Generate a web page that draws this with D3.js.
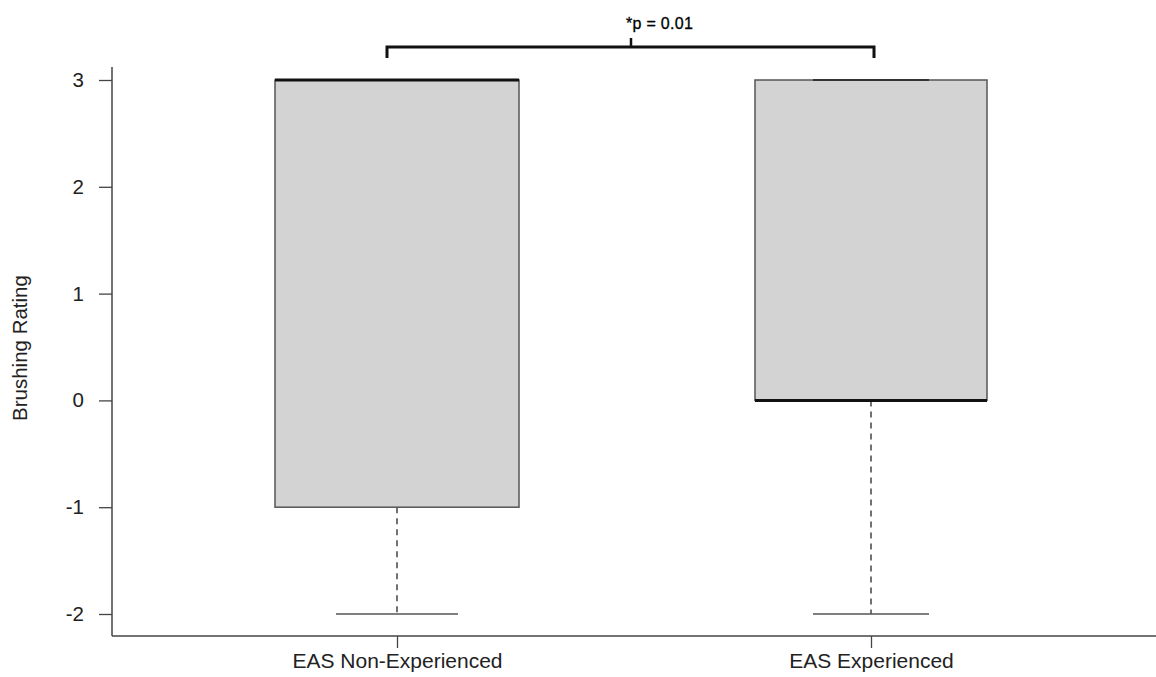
<!DOCTYPE html>
<html>
  <head>
    <meta charset="utf-8">
    <script src="https://d3js.org/d3.v7.min.js"></script>
    <style>
      body { margin: 0; background: #fff; }
      text { font-family: "Liberation Sans", Arial, sans-serif; }
    </style>
  </head>
  <body>
<script type="text/javascript">
// box plot data
var groups = ['EAS Non-Experienced', 'EAS Experienced'];
var mins = [-2, -2];
var q1s = [-1, 0];
var medians = [3, 0];
var q3s = [3, 3];
var maxs = [3, 3];
var yTicks = [-2, -1, 0, 1, 2, 3];
var sigLabel = '*p = 0.01';

var width = 1156;
var height = 677;
var svg = d3.select('body').append('svg')
      .attr('width', width)
      .attr('height', height);

var y = d3.scaleLinear()
      .domain([-2, 3])
      .range([614, 80]);

var x = d3.scalePoint()
      .domain(groups)
      .range([397, 871]);

var boxHalf = [122, 116];

// axes (L shaped, like bty="l")
var yAxis = svg.append('g')
      .attr('transform', 'translate(112,0)')
      .call(d3.axisLeft(y).tickValues(yTicks).tickSize(13).tickPadding(15)
        .tickFormat(function(d) { return String(d); }));
yAxis.select('.domain').remove();
yAxis.selectAll('line').attr('stroke', '#444').attr('stroke-width', 1.3);
yAxis.selectAll('text').attr('font-size', 20.5).attr('fill', '#222')
      .style('font-family', '"Liberation Sans", Arial, sans-serif');

svg.append('line')
      .attr('x1', 112).attr('x2', 112)
      .attr('y1', 67).attr('y2', 636)
      .attr('stroke', '#444').attr('stroke-width', 1.5);

var xAxis = svg.append('g')
      .attr('transform', 'translate(0,636)')
      .call(d3.axisBottom(x).tickSize(12).tickPadding(5));
xAxis.select('.domain').remove();
xAxis.selectAll('line').attr('stroke', '#444').attr('stroke-width', 1.3);
xAxis.selectAll('text').attr('font-size', 21).attr('fill', '#222')
      .style('font-family', '"Liberation Sans", Arial, sans-serif');

svg.append('line')
      .attr('x1', 112).attr('x2', width)
      .attr('y1', 636).attr('y2', 636)
      .attr('stroke', '#444').attr('stroke-width', 1.5);

svg.append('text')
      .attr('transform', 'translate(27,348) rotate(-90)')
      .attr('text-anchor', 'middle')
      .attr('font-size', 20.5)
      .attr('fill', '#222')
      .text('Brushing Rating');

// boxes
var boxes = svg.append('g')
      .selectAll('g')
      .data(groups)
      .enter()
      .append('g');

// whiskers (dashed)
boxes.append('line')
      .attr('x1', function(d) { return x(d); })
      .attr('x2', function(d) { return x(d); })
      .attr('y1', function(d, i) { return y(q1s[i]); })
      .attr('y2', function(d, i) { return y(mins[i]); })
      .attr('stroke', '#444')
      .attr('stroke-width', 1.5)
      .attr('stroke-dasharray', '6,5');

boxes.append('line')
      .attr('x1', function(d) { return x(d); })
      .attr('x2', function(d) { return x(d); })
      .attr('y1', function(d, i) { return y(q3s[i]); })
      .attr('y2', function(d, i) { return y(maxs[i]); })
      .attr('stroke', '#444')
      .attr('stroke-width', 1.5)
      .attr('stroke-dasharray', '6,5');

boxes.append('rect')
      .attr('x', function(d, i) { return x(d) - boxHalf[i]; })
      .attr('width', function(d, i) { return boxHalf[i] * 2; })
      .attr('y', function(d, i) { return y(q3s[i]); })
      .attr('height', function(d, i) { return y(q1s[i]) - y(q3s[i]); })
      .attr('fill', '#d3d3d3')
      .attr('stroke', '#555')
      .attr('stroke-width', 1.5);

// whisker caps
boxes.append('line')
      .attr('x1', function(d, i) { return x(d) - boxHalf[i] / 2; })
      .attr('x2', function(d, i) { return x(d) + boxHalf[i] / 2; })
      .attr('y1', function(d, i) { return y(mins[i]); })
      .attr('y2', function(d, i) { return y(mins[i]); })
      .attr('stroke', '#555')
      .attr('stroke-width', 1.5);

boxes.append('line')
      .attr('x1', function(d, i) { return x(d) - boxHalf[i] / 2; })
      .attr('x2', function(d, i) { return x(d) + boxHalf[i] / 2; })
      .attr('y1', function(d, i) { return y(maxs[i]); })
      .attr('y2', function(d, i) { return y(maxs[i]); })
      .attr('stroke', '#333')
      .attr('stroke-width', 2);

// medians
boxes.append('line')
      .attr('x1', function(d, i) { return x(d) - boxHalf[i]; })
      .attr('x2', function(d, i) { return x(d) + boxHalf[i]; })
      .attr('y1', function(d, i) { return y(medians[i]); })
      .attr('y2', function(d, i) { return y(medians[i]); })
      .attr('stroke', '#111')
      .attr('stroke-width', 3);

// significance bracket
var bx1 = 387, bx2 = 874, by = 47;
svg.append('path')
      .attr('d', 'M' + bx1 + ',' + (by + 11) + 'V' + by + 'H' + bx2 + 'V' + (by + 11))
      .attr('fill', 'none')
      .attr('stroke', '#111')
      .attr('stroke-width', 3);
svg.append('line')
      .attr('x1', 631).attr('x2', 631)
      .attr('y1', by).attr('y2', by - 9)
      .attr('stroke', '#111')
      .attr('stroke-width', 2.5);
svg.append('text')
      .attr('x', 626)
      .attr('y', 29)
      .attr('font-size', 16)
      .attr('letter-spacing', 0.3)
      .attr('stroke', '#000')
      .attr('stroke-width', 0.3)
      .attr('fill', '#000')
      .text(sigLabel);
</script>
  </body>
</html>
